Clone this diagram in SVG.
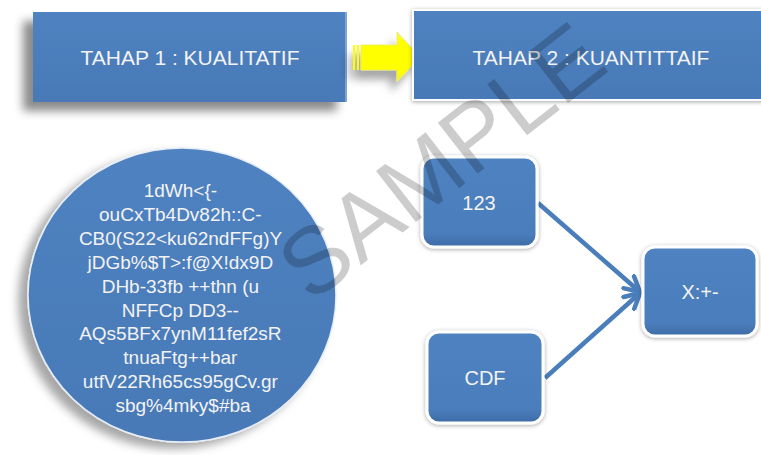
<svg xmlns="http://www.w3.org/2000/svg" width="761" height="455" viewBox="0 0 761 455">
<defs>
<style>
.lbl{font-family:"Liberation Sans",Arial,sans-serif;fill:#f3f3f3;text-anchor:middle}
.big{font-size:21px}
.mid{font-size:20px}
.circ{font-size:19px}
.conn{fill:none;stroke:#4a7ebb;stroke-width:4.5;marker-end:url(#head)}
.rbox{fill:url(#gBox);stroke:#ffffff;stroke-width:3;filter:url(#glow)}
</style>
<linearGradient id="gBox" x1="0" y1="0" x2="0" y2="1">
<stop offset="0" stop-color="#4f82c0"/>
<stop offset="0.85" stop-color="#4a7dbb"/>
<stop offset="1" stop-color="#3e6ca6"/>
</linearGradient>
<linearGradient id="gFlat" x1="0" y1="0" x2="0" y2="1">
<stop offset="0" stop-color="#4f82c0"/>
<stop offset="1" stop-color="#4879b7"/>
</linearGradient>
<linearGradient id="gYel" x1="0" y1="0" x2="0" y2="1">
<stop offset="0" stop-color="#f4f46a"/>
<stop offset="0.2" stop-color="#ffff00"/>
<stop offset="0.8" stop-color="#ffff00"/>
<stop offset="1" stop-color="#eeee40"/>
</linearGradient>
<filter id="shBig" x="-20%" y="-30%" width="140%" height="170%">
<feDropShadow dx="-10" dy="9" stdDeviation="5" flood-color="#000" flood-opacity="0.45"/>
</filter>
<filter id="shCirc" x="-20%" y="-20%" width="140%" height="140%">
<feDropShadow dx="-9" dy="6" stdDeviation="5" flood-color="#000" flood-opacity="0.35"/>
</filter>
<filter id="shArrow" x="-40%" y="-40%" width="180%" height="200%">
<feDropShadow dx="-6" dy="9" stdDeviation="4" flood-color="#000" flood-opacity="0.35"/>
</filter>
<filter id="glow" x="-20%" y="-20%" width="140%" height="140%">
<feDropShadow dx="0" dy="1" stdDeviation="2" flood-color="#000" flood-opacity="0.35"/>
</filter>
<marker id="head" markerUnits="userSpaceOnUse" viewBox="0 0 20 20" refX="17" refY="10" markerWidth="20" markerHeight="20" orient="auto">
<path d="M2,2 L17,10 L2,18" fill="none" stroke="#4a7ebb" stroke-width="4.5" stroke-linecap="round" stroke-linejoin="round"/>
</marker>
</defs>
<rect width="761" height="455" fill="#ffffff"/>

<g id="tahap1">
<rect x="33" y="12" width="314" height="90" fill="url(#gFlat)" filter="url(#shBig)"/>
<line x1="346" y1="12" x2="346" y2="102" stroke="#8fb3e0" stroke-width="1.5"/>
<text class="lbl big" x="190" y="65">TAHAP 1 : KUALITATIF</text>
</g>

<g id="arrowYellow" filter="url(#shArrow)">
<rect x="353" y="45" width="2" height="25" fill="#ffff00"/>
<rect x="357" y="45" width="2" height="25" fill="#ffff00"/>
<path d="M361,45 L397,45 L397,32 L420,57 L397,82 L397,70 L361,70 Z" fill="url(#gYel)" stroke="#e8e860" stroke-width="0.8"/>
</g>

<g id="tahap2">
<rect x="413" y="10" width="352" height="90" fill="url(#gFlat)" stroke="#ffffff" stroke-width="2" filter="url(#glow)"/>
<text class="lbl big" x="591" y="65">TAHAP 2 : KUANTITTAIF</text>
</g>

<g id="circle">
<ellipse cx="182" cy="295" rx="154" ry="147" fill="url(#gFlat)" stroke="#e6eef8" stroke-width="1.5" filter="url(#shCirc)"/>
<text class="lbl circ">
<tspan x="183" y="197">1dWh&lt;{-</tspan>
<tspan x="183" y="220.9">ouCxTb4Dv82h::C-</tspan>
<tspan x="183" y="244.8">CB0(S22&lt;ku62ndFFg)Y</tspan>
<tspan x="183" y="268.7">jDGb%$T&gt;:f@X!dx9D</tspan>
<tspan x="183" y="292.6">DHb-33fb ++thn (u</tspan>
<tspan x="183" y="316.5">NFFCp DD3--</tspan>
<tspan x="183" y="340.4">AQs5BFx7ynM11fef2sR</tspan>
<tspan x="183" y="364.3">tnuaFtg++bar</tspan>
<tspan x="183" y="388.2">utfV22Rh65cs95gCv.gr</tspan>
<tspan x="183" y="412">sbg%4mky$#ba</tspan>
</text>
</g>

<g id="connectors">
<path class="conn" d="M538,203 L640,292"/>
<path class="conn" d="M545,378 L640,293"/>
</g>

<g id="n123">
<rect class="rbox" x="422" y="157" width="115" height="90" rx="12"/>
<text class="lbl mid" x="479" y="210">123</text>
</g>

<g id="nCDF">
<rect class="rbox" x="427" y="332" width="116" height="91" rx="12"/>
<text class="lbl mid" x="485" y="385">CDF</text>
</g>

<g id="nX">
<rect class="rbox" x="643" y="247" width="114" height="89" rx="12"/>
<text class="lbl mid" x="700" y="299">X:+-</text>
</g>

<text x="311" y="304" transform="rotate(-38 311 304)" font-family="'Liberation Sans',Arial,sans-serif" font-size="94" fill="#000000" fill-opacity="0.2">SAMPLE</text>
</svg>
